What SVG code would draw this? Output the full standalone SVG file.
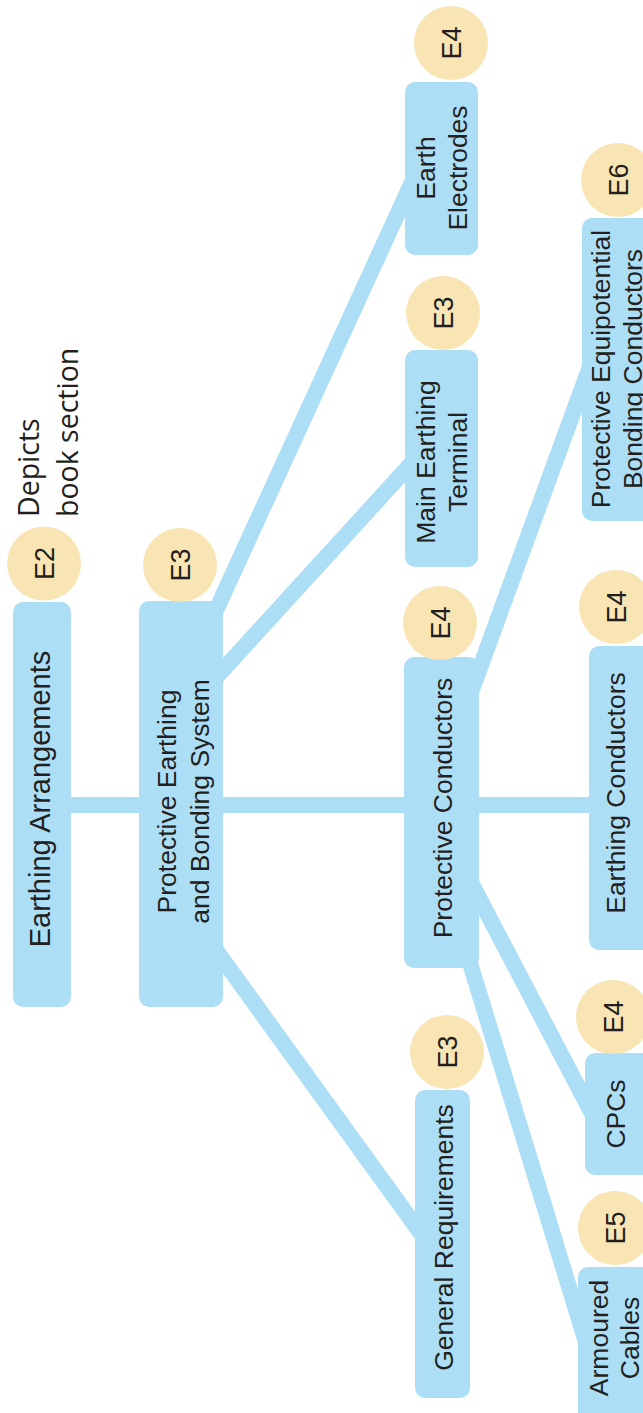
<svg xmlns="http://www.w3.org/2000/svg" width="643" height="1413" viewBox="0 0 643 1413">
<style>
.box{fill:#acdef6}
.badge{fill:#f9e4b4}
.conn{stroke:#acdef6;stroke-width:16;fill:none;stroke-linecap:butt}
text{font-family:"Liberation Sans",Arial,Helvetica,sans-serif;fill:#231f20;text-anchor:middle}
.t{font-size:26.5px}
.big{font-size:29px}
.b{font-size:27px}
.note{font-family:"Open Sans","Noto Sans",sans-serif;font-size:28.5px;text-anchor:start}
</style>
<rect width="643" height="1413" fill="#ffffff"/>
<g id="connectors">
<line class="conn" x1="40" y1="805" x2="610" y2="805"/>
<line class="conn" x1="202" y1="641" x2="413" y2="180"/>
<line class="conn" x1="210" y1="684" x2="420" y2="454"/>
<line class="conn" x1="205" y1="935" x2="430" y2="1246"/>
<line class="conn" x1="462" y1="717" x2="592" y2="361"/>
<line class="conn" x1="465" y1="871" x2="597" y2="1123"/>
<line class="conn" x1="462" y1="937" x2="588" y2="1349"/>
</g>
<g id="legend">
<circle class="badge" cx="44" cy="563.5" r="37"/>
<text class="b" transform="translate(53.5,563.5) rotate(-90)">E2</text>
<text class="note" transform="translate(39,517) rotate(-90)">Depicts</text>
<text class="note" transform="translate(78,517) rotate(-90)">book section</text>
</g>
<g id="earthing-arrangements">
<rect class="box" x="13" y="602" width="58" height="405" rx="10"/>
<text class="big" transform="translate(50,799) rotate(-90)">Earthing Arrangements</text>
</g>
<g id="pebs">
<rect class="box" x="139" y="601" width="84" height="406" rx="10"/>
<circle class="badge" cx="180" cy="565" r="37"/>
<text class="b" transform="translate(189.5,565) rotate(-90)">E3</text>
<text class="t" transform="translate(176,801.5) rotate(-90)">Protective Earthing</text>
<text class="t" transform="translate(209,801.5) rotate(-90)">and Bonding System</text>
</g>
<g id="protective-conductors">
<rect class="box" x="404" y="657" width="75" height="311" rx="10"/>
<circle class="badge" cx="440" cy="623" r="37"/>
<text class="b" transform="translate(449.5,623) rotate(-90)">E4</text>
<text class="t" transform="translate(452,808) rotate(-90)">Protective Conductors</text>
</g>
<g id="main-earthing-terminal">
<rect class="box" x="405" y="350" width="73" height="217" rx="10"/>
<circle class="badge" cx="443" cy="313" r="37"/>
<text class="b" transform="translate(452.5,313) rotate(-90)">E3</text>
<text class="t" transform="translate(435,462) rotate(-90)">Main Earthing</text>
<text class="t" transform="translate(467,462) rotate(-90)">Terminal</text>
</g>
<g id="earth-electrodes">
<rect class="box" x="405" y="82" width="73" height="173" rx="10"/>
<circle class="badge" cx="451" cy="43" r="37"/>
<text class="b" transform="translate(460.5,43) rotate(-90)">E4</text>
<text class="t" transform="translate(435,168) rotate(-90)">Earth</text>
<text class="t" transform="translate(467,168) rotate(-90)">Electrodes</text>
</g>
<g id="pebc">
<rect class="box" x="582" y="218" width="80" height="303" rx="10"/>
<circle class="badge" cx="618" cy="180" r="37"/>
<text class="b" transform="translate(627.5,180) rotate(-90)">E6</text>
<text class="t" transform="translate(610,369) rotate(-90)">Protective Equipotential</text>
<text class="t" transform="translate(642,369) rotate(-90)">Bonding Conductors</text>
</g>
<g id="earthing-conductors">
<rect class="box" x="589" y="646" width="70" height="304" rx="10"/>
<circle class="badge" cx="616" cy="607" r="37"/>
<text class="b" transform="translate(625.5,607) rotate(-90)">E4</text>
<text class="t" transform="translate(625,793) rotate(-90)">Earthing Conductors</text>
</g>
<g id="cpcs">
<rect class="box" x="585" y="1053" width="70" height="122" rx="10"/>
<circle class="badge" cx="613" cy="1017" r="37"/>
<text class="b" transform="translate(622.5,1017) rotate(-90)">E4</text>
<text class="t" transform="translate(625,1114) rotate(-90)">CPCs</text>
</g>
<g id="general-requirements">
<rect class="box" x="415" y="1090" width="55" height="308" rx="10"/>
<circle class="badge" cx="447" cy="1052" r="37"/>
<text class="b" transform="translate(456.5,1052) rotate(-90)">E3</text>
<text class="t" transform="translate(453,1237.5) rotate(-90)">General Requirements</text>
</g>
<g id="armoured-cables">
<rect class="box" x="578" y="1267" width="80" height="170" rx="10"/>
<circle class="badge" cx="615" cy="1228" r="37"/>
<text class="b" transform="translate(624.5,1228) rotate(-90)">E5</text>
<text class="t" transform="translate(608,1338) rotate(-90)">Armoured</text>
<text class="t" transform="translate(639,1338) rotate(-90)">Cables</text>
</g>
</svg>
